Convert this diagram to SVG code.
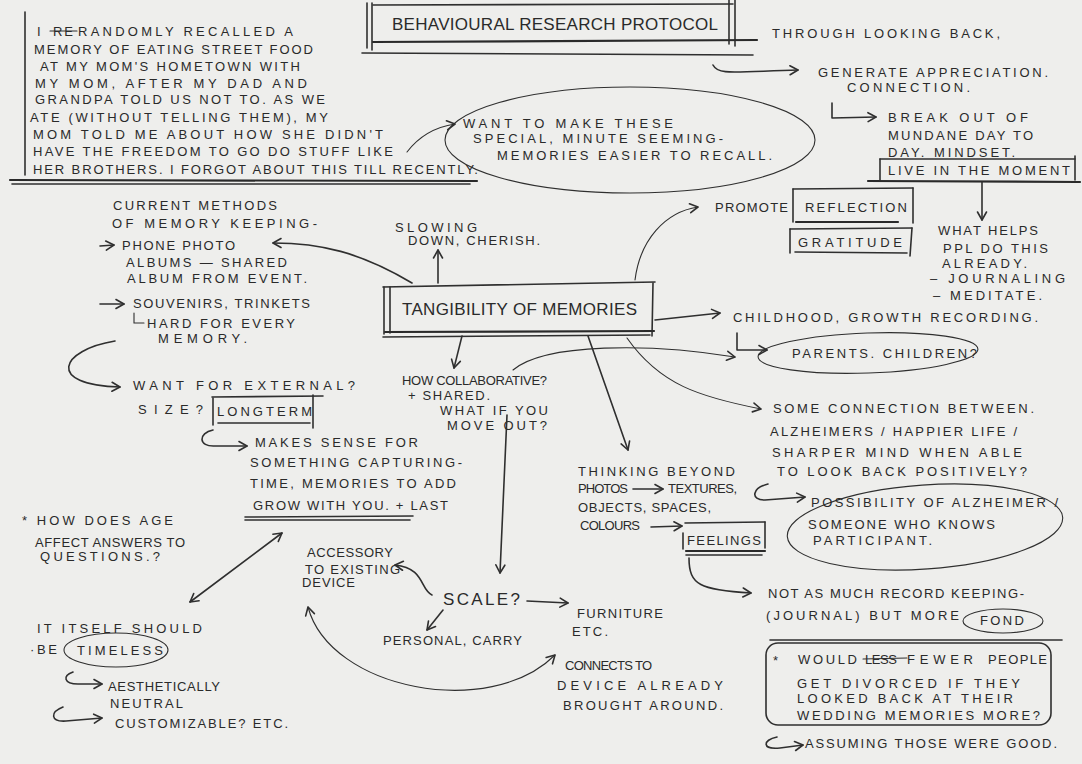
<svg xmlns="http://www.w3.org/2000/svg" width="1082" height="764" viewBox="0 0 1082 764">
<style>
.t{font-family:"Liberation Sans",Arial,sans-serif;font-size:13px;fill:#2a2a2a}
.b{font-size:17px}
.s{fill:none;stroke:#2f2f2f;stroke-width:1.6;stroke-linecap:round;stroke-linejoin:round}
.th{fill:none;stroke:#2f2f2f;stroke-width:1.1;stroke-linecap:round}
.k{fill:none;stroke:#2a2a2a;stroke-width:2.2;stroke-linecap:round}
</style>
<defs>
<marker id="a" viewBox="0 0 12 12" refX="10" refY="6" markerWidth="12" markerHeight="12" markerUnits="userSpaceOnUse" orient="auto-start-reverse">
<path d="M2,1.5 L10,6 L2,10.5" fill="none" stroke="#2f2f2f" stroke-width="1.6" stroke-linecap="round" stroke-linejoin="round"/>
</marker>
</defs>
<rect width="1082" height="764" fill="#eeeeec"/>

<g id="story">
<line class="s" x1="25" y1="12" x2="25" y2="175"/>
<line class="k" x1="10" y1="180" x2="477" y2="181"/>
<line class="s" x1="12" y1="184" x2="470" y2="184"/>
<text class="t" x="37" y="36">I</text>
<text class="t" x="53" y="36" textLength="20">RE</text>
<line class="th" x1="50" y1="31" x2="77" y2="31"/>
<text class="t" x="78" y="36" textLength="215">RANDOMLY RECALLED A</text>
<text class="t" x="34" y="54" textLength="279">MEMORY OF EATING STREET FOOD</text>
<text class="t" x="40" y="71" textLength="260">AT MY MOM'S HOMETOWN WITH</text>
<text class="t" x="35" y="88" textLength="272">MY MOM, AFTER MY DAD AND</text>
<text class="t" x="35" y="104" textLength="290">GRANDPA TOLD US NOT TO. AS WE</text>
<text class="t" x="30" y="122" textLength="298">ATE (WITHOUT TELLING THEM), MY</text>
<text class="t" x="33" y="139" textLength="350">MOM TOLD ME ABOUT HOW SHE DIDN'T</text>
<text class="t" x="33" y="156" textLength="360">HAVE THE FREEDOM TO GO DO STUFF LIKE</text>
<text class="t" x="33" y="174" textLength="445">HER BROTHERS. I FORGOT ABOUT THIS TILL RECENTLY.</text>
</g>

<g id="title">
<line class="s" x1="373" y1="5" x2="733" y2="4"/>
<line class="s" x1="367" y1="3" x2="367" y2="48"/>
<line class="s" x1="372" y1="3" x2="372" y2="50"/>
<line class="s" x1="729" y1="0" x2="729" y2="44"/>
<line class="s" x1="735" y1="0" x2="735" y2="46"/>
<line class="k" x1="373" y1="42" x2="757" y2="40"/>
<line class="s" x1="362" y1="53" x2="753" y2="55"/>
<text class="t b" x="392" y="30" textLength="326">BEHAVIOURAL RESEARCH PROTOCOL</text>
</g>

<g id="looking-back">
<text class="t" x="772" y="38" textLength="228">THROUGH LOOKING BACK,</text>
</g>
<g id="appreciation">
<text class="t" x="818" y="77" textLength="230">GENERATE APPRECIATION.</text>
<text class="t" x="847" y="92" textLength="123">CONNECTION.</text>
</g>
<g id="mundane">
<text class="t" x="888" y="122" textLength="140">BREAK OUT OF</text>
<text class="t" x="888" y="140" textLength="145">MUNDANE DAY TO</text>
<text class="t" x="888" y="157" textLength="127">DAY. MINDSET.</text>
</g>
<g id="live-moment">
<line class="s" x1="880" y1="159" x2="1075" y2="159"/>
<line class="s" x1="880" y1="159" x2="880" y2="180"/>
<line class="s" x1="1075" y1="156" x2="1075" y2="180"/>
<line class="k" x1="868" y1="181" x2="1080" y2="182"/>
<text class="t" x="888" y="175" textLength="182">LIVE IN THE MOMENT</text>
</g>
<g id="what-helps">
<text class="t" x="938" y="235" textLength="100">WHAT HELPS</text>
<text class="t" x="943" y="253" textLength="105">PPL DO THIS</text>
<text class="t" x="942" y="268" textLength="85">ALREADY.</text>
<text class="t" x="930" y="283" textLength="135">– JOURNALING</text>
<text class="t" x="933" y="300" textLength="109">– MEDITATE.</text>
</g>

<g id="want-special">
<ellipse class="th" cx="630" cy="140" rx="185" ry="53"/>
<text class="t" x="463" y="128" textLength="210">WANT TO MAKE THESE</text>
<text class="t" x="473" y="143" textLength="250">SPECIAL, MINUTE SEEMING-</text>
<text class="t" x="497" y="160" textLength="275">MEMORIES EASIER TO RECALL.</text>
</g>

<g id="current-methods">
<text class="t" x="113" y="210" textLength="164">CURRENT METHODS</text>
<text class="t" x="112" y="228" textLength="205">OF MEMORY KEEPING-</text>
<text class="t" x="122" y="250" textLength="113">PHONE PHOTO</text>
<text class="t" x="126" y="267" textLength="161">ALBUMS — SHARED</text>
<text class="t" x="127" y="283" textLength="180">ALBUM FROM EVENT.</text>
<text class="t" x="133" y="308" textLength="177">SOUVENIRS, TRINKETS</text>
<text class="t" x="147" y="328" textLength="148">HARD FOR EVERY</text>
<text class="t" x="158" y="343" textLength="89">MEMORY.</text>
</g>

<g id="external">
<text class="t" x="133" y="390" textLength="222">WANT FOR EXTERNAL?</text>
<text class="t" x="138" y="414" textLength="65">SIZE?</text>
<line class="s" x1="212" y1="397" x2="323" y2="396"/>
<line class="s" x1="213" y1="398" x2="213" y2="425"/>
<line class="s" x1="313" y1="395" x2="313" y2="428"/>
<line class="s" x1="218" y1="423" x2="310" y2="423"/>
<text class="t" x="217" y="416" textLength="95">LONGTERM</text>
</g>

<g id="makes-sense">
<text class="t" x="255" y="447" textLength="163">MAKES SENSE FOR</text>
<text class="t" x="250" y="467" textLength="212">SOMETHING CAPTURING-</text>
<text class="t" x="250" y="488" textLength="206">TIME, MEMORIES TO ADD</text>
<text class="t" x="253" y="510" textLength="195">GROW WITH YOU. + LAST</text>
<line class="s" x1="245" y1="517" x2="413" y2="516"/>
<line class="s" x1="245" y1="520" x2="410" y2="520"/>
</g>

<g id="age">
<text class="t" x="22" y="525" textLength="151">* HOW DOES AGE</text>
<text class="t" x="35" y="547" textLength="150">AFFECT ANSWERS TO</text>
<text class="t" x="40" y="561" textLength="120">QUESTIONS.?</text>
</g>

<g id="timeless">
<text class="t" x="37" y="633" textLength="165">IT ITSELF SHOULD</text>
<text class="t" x="30" y="654" textLength="27">·BE</text>
<ellipse class="th" cx="116" cy="650" rx="52" ry="17"/>
<text class="t" x="77" y="655" textLength="86">TIMELESS</text>
<text class="t" x="108" y="691" textLength="112">AESTHETICALLY</text>
<text class="t" x="110" y="708" textLength="73">NEUTRAL</text>
<text class="t" x="115" y="728" textLength="173">CUSTOMIZABLE? ETC.</text>
</g>

<g id="tangibility">
<line class="s" x1="383" y1="287" x2="655" y2="282"/>
<line class="s" x1="384" y1="287" x2="384" y2="334"/>
<line class="s" x1="390" y1="287" x2="390" y2="333"/>
<line class="s" x1="653" y1="283" x2="652" y2="336"/>
<line class="k" x1="385" y1="332" x2="654" y2="331"/>
<line class="s" x1="383" y1="337" x2="650" y2="335"/>
<text class="t b" x="402" y="315" textLength="235">TANGIBILITY OF MEMORIES</text>
</g>

<g id="slowing">
<text class="t" x="395" y="232" textLength="82">SLOWING</text>
<text class="t" x="408" y="245" textLength="132">DOWN, CHERISH.</text>
</g>

<g id="collaborative">
<text class="t" x="402" y="385" textLength="145">HOW COLLABORATIVE?</text>
<text class="t" x="408" y="400" textLength="82">+ SHARED.</text>
<text class="t" x="440" y="415" textLength="108">WHAT IF YOU</text>
<text class="t" x="447" y="430" textLength="100">MOVE OUT?</text>
</g>

<g id="promote">
<text class="t" x="715" y="212" textLength="73">PROMOTE</text>
<line class="s" x1="793" y1="189" x2="913" y2="188"/>
<line class="s" x1="793" y1="189" x2="793" y2="222"/>
<line class="s" x1="913" y1="188" x2="913" y2="223"/>
<line class="k" x1="796" y1="222" x2="898" y2="222"/>
<text class="t" x="805" y="212" textLength="102">REFLECTION</text>
</g>
<g id="gratitude">
<line class="s" x1="790" y1="229" x2="912" y2="228"/>
<line class="s" x1="790" y1="229" x2="790" y2="253"/>
<line class="s" x1="912" y1="228" x2="910" y2="256"/>
<line class="s" x1="795" y1="252" x2="907" y2="253"/>
<text class="t" x="798" y="247" textLength="104">GRATITUDE</text>
</g>

<g id="childhood">
<text class="t" x="733" y="322" textLength="305">CHILDHOOD, GROWTH RECORDING.</text>
</g>
<g id="parents">
<ellipse class="th" cx="868" cy="353" rx="110" ry="20" transform="rotate(-2 868 353)"/>
<text class="t" x="792" y="358" textLength="185">PARENTS. CHILDREN?</text>
</g>

<g id="alzheimers">
<text class="t" x="773" y="413" textLength="261">SOME CONNECTION BETWEEN.</text>
<text class="t" x="770" y="436" textLength="247">ALZHEIMERS / HAPPIER LIFE /</text>
<text class="t" x="772" y="457" textLength="250">SHARPER MIND WHEN ABLE</text>
<text class="t" x="777" y="476" textLength="250">TO LOOK BACK POSITIVELY?</text>
</g>
<g id="possibility">
<ellipse class="th" cx="925" cy="527" rx="138" ry="42" transform="rotate(-4 925 527)"/>
<text class="t" x="811" y="507" textLength="247">POSSIBILITY OF ALZHEIMER /</text>
<text class="t" x="808" y="529" textLength="187">SOMEONE WHO KNOWS</text>
<text class="t" x="813" y="545" textLength="119">PARTICIPANT.</text>
</g>

<g id="beyond-photos">
<text class="t" x="578" y="476" textLength="157">THINKING BEYOND</text>
<text class="t" x="578" y="493" textLength="50">PHOTOS</text>
<text class="t" x="668" y="493" textLength="69">TEXTURES,</text>
<text class="t" x="578" y="512" textLength="133">OBJECTS, SPACES,</text>
<text class="t" x="580" y="530" textLength="60">COLOURS</text>
<line class="s" x1="685" y1="523" x2="765" y2="522"/>
<line class="s" x1="683" y1="533" x2="683" y2="549"/>
<line class="s" x1="765" y1="522" x2="765" y2="548"/>
<line class="k" x1="686" y1="551" x2="765" y2="551"/>
<line class="s" x1="686" y1="555" x2="762" y2="555"/>
<text class="t" x="687" y="545" textLength="74">FEELINGS</text>
</g>

<g id="record-keeping">
<text class="t" x="768" y="598" textLength="256">NOT AS MUCH RECORD KEEPING-</text>
<text class="t" x="766" y="620" textLength="193">(JOURNAL) BUT MORE</text>
<ellipse class="th" cx="1003" cy="621" rx="40" ry="12"/>
<text class="t" x="980" y="625" textLength="44">FOND</text>
</g>

<g id="scale">
<text class="t b" x="443" y="605" textLength="77">SCALE?</text>
</g>
<g id="accessory">
<text class="t" x="307" y="557" textLength="86">ACCESSORY</text>
<text class="t" x="305" y="574" textLength="95">TO EXISTING</text>
<text class="t" x="302" y="587" textLength="53">DEVICE</text>
</g>
<g id="personal">
<text class="t" x="383" y="645" textLength="139">PERSONAL, CARRY</text>
</g>
<g id="furniture">
<text class="t" x="577" y="618" textLength="86">FURNITURE</text>
<text class="t" x="572" y="636" textLength="36">ETC.</text>
</g>
<g id="connects">
<text class="t" x="565" y="670" textLength="87">CONNECTS TO</text>
<text class="t" x="557" y="690" textLength="166">DEVICE ALREADY</text>
<text class="t" x="563" y="710" textLength="160">BROUGHT AROUND.</text>
</g>

<g id="divorce">
<line class="s" x1="770" y1="640" x2="1062" y2="640"/>
<rect class="s" x="766" y="643" width="285" height="82" rx="12"/>
<text class="t" x="773" y="665">*</text>
<text class="t" x="798" y="664" textLength="59">WOULD</text>
<text class="t" x="865" y="664" textLength="32">LESS</text>
<line class="th" x1="863" y1="659" x2="907" y2="658"/>
<text class="t" x="907" y="664" textLength="66">FEWER</text>
<text class="t" x="988" y="664" textLength="59">PEOPLE</text>
<text class="t" x="797" y="688" textLength="223">GET DIVORCED IF THEY</text>
<text class="t" x="797" y="703" textLength="216">LOOKED BACK AT THEIR</text>
<text class="t" x="797" y="720" textLength="243">WEDDING MEMORIES MORE?</text>
</g>
<g id="assuming">
<text class="t" x="805" y="748" textLength="252">ASSUMING THOSE WERE GOOD.</text>
</g>

<g id="connectors">
<path class="th" d="M407,152 C420,135 435,127 455,124" marker-end="url(#a)"/>
<path class="s" d="M713,65 C718,75 730,72 798,70" marker-end="url(#a)"/>
<path class="s" d="M832,103 L832,118 L876,117" marker-end="url(#a)"/>
<path class="s" d="M982,182 L982,220" marker-end="url(#a)"/>
<path class="s" d="M100,246 L114,245" marker-end="url(#a)"/>
<path class="s" d="M100,304 L124,304" marker-end="url(#a)"/>
<path class="th" d="M134,313 L134,323 L144,323"/>
<path class="s" d="M412,283 C360,252 320,243 273,243" marker-end="url(#a)"/>
<path class="s" d="M438,283 L438,250" marker-end="url(#a)"/>
<path class="s" d="M462,336 L454,368" marker-end="url(#a)"/>
<path class="th" d="M635,280 C640,240 665,212 698,207" marker-end="url(#a)"/>
<path class="s" d="M655,320 L720,313" marker-end="url(#a)"/>
<path class="s" d="M737,333 L737,350 L767,350" marker-end="url(#a)"/>
<path class="th" d="M513,370 C545,343 650,343 735,357" marker-end="url(#a)"/>
<path class="th" d="M627,338 C660,385 700,397 761,409" marker-end="url(#a)"/>
<path class="s" d="M588,336 L628,450" marker-end="url(#a)"/>
<path class="s" d="M768,484 C752,488 750,500 765,500 L805,497" marker-end="url(#a)"/>
<path class="s" d="M633,489 L663,489" marker-end="url(#a)"/>
<path class="s" d="M651,527 L682,526" marker-end="url(#a)"/>
<path class="s" d="M689,558 C689,585 700,590 751,593" marker-end="url(#a)"/>
<path class="s" d="M115,341 C60,350 45,385 120,387" marker-end="url(#a)"/>
<path class="s" d="M213,430 C198,433 198,447 215,446 L247,446" marker-end="url(#a)"/>
<path class="s" d="M190,602 L282,533" marker-start="url(#a)" marker-end="url(#a)"/>
<path class="s" d="M73,672 C62,676 64,684 78,684 L102,684" marker-end="url(#a)"/>
<path class="s" d="M63,707 C50,712 50,722 66,721 L102,718" marker-end="url(#a)"/>
<path class="s" d="M507,415 L500,573" marker-end="url(#a)"/>
<path class="s" d="M432,595 C420,590 425,568 395,565" marker-end="url(#a)"/>
<path class="s" d="M443,610 L427,630" marker-end="url(#a)"/>
<path class="s" d="M527,601 L568,603" marker-end="url(#a)"/>
<path class="th" d="M308,607 C330,690 490,720 555,655" marker-start="url(#a)" marker-end="url(#a)"/>
<path class="s" d="M777,737 C762,740 762,750 780,748 L803,745" marker-end="url(#a)"/>
</g>
</svg>
